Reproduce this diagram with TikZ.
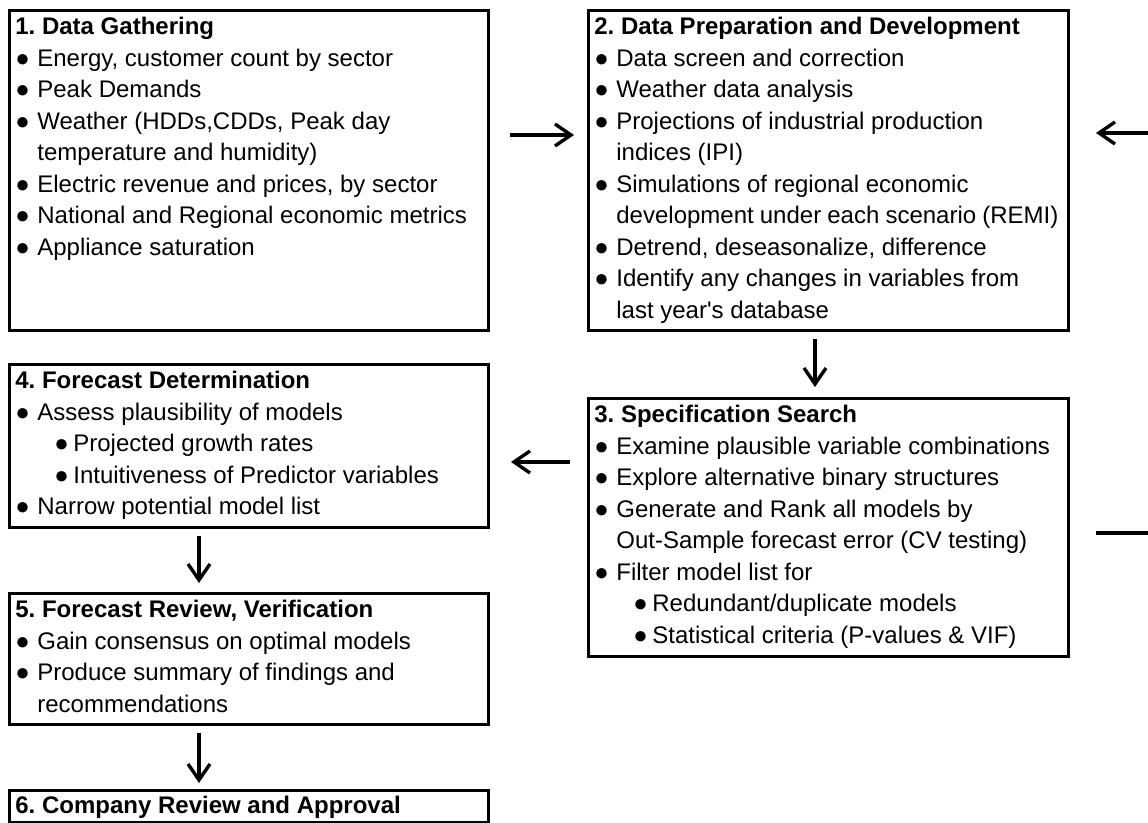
\documentclass[tikz,border=0pt]{standalone}
\usepackage{fontspec}
\setmainfont{Liberation Sans}
\usetikzlibrary{arrows.meta}
\frenchspacing
\newcommand{\mybul}{●}
\newcommand{\ttl}[1]{\textbf{#1}\par}
\newcommand{\bx}[1]{\makebox[11pt][l]{\mybul}#1\par}
\newcommand{\cx}[1]{\hspace*{11pt}#1\par}
\newcommand{\sbx}[1]{\hspace*{19.5pt}\makebox[9.5pt][l]{\mybul}#1\par}
\newcommand{\boxtext}[1]{\parbox[t]{232pt}{\setlength{\parindent}{0pt}\frenchspacing#1}}
\begin{document}
\begin{tikzpicture}[x=0.5pt,y=-0.5pt,
  box/.style={draw, line width=1.5pt, rectangle, inner sep=0pt, anchor=north west},
  txt/.style={inner sep=0pt, anchor=base west, font=\fontsize{12pt}{15.75pt}\selectfont},
  arr/.style={line width=1.7pt, -{Straight Barb[length=8pt,width=11pt]}},
  conn/.style={line width=1.7pt}]
\useasboundingbox (0,0) rectangle (1148,823);

% boxes
\node[box, minimum width=239.5pt, minimum height=160pt] (b1) at (8,9) {};
\node[box, minimum width=240pt, minimum height=160pt] (b2) at (587,9) {};
\node[box, minimum width=240pt, minimum height=129pt] (b3) at (587,397) {};
\node[box, minimum width=239.5pt, minimum height=81.5pt] (b4) at (8,363) {};
\node[box, minimum width=239.5pt, minimum height=65.5pt] (b5) at (8,592) {};
\node[box, minimum width=239.5pt, minimum height=16pt] (b6) at (8,789) {};

% texts
\node[txt] (t1) at ([shift={(7,26)}]b1.north west) {\boxtext{%
\ttl{1. Data Gathering}
\bx{Energy, customer count by sector}
\bx{Peak Demands}
\bx{Weather (HDDs,CDDs, Peak day}
\cx{temperature and humidity)}
\bx{Electric revenue and prices, by sector}
\bx{National and Regional economic metrics}
\bx{Appliance saturation}}};

\node[txt] (t2) at ([shift={(7,26)}]b2.north west) {\boxtext{%
\ttl{2. Data Preparation and Development}
\bx{Data screen and correction}
\bx{Weather data analysis}
\bx{Projections of industrial production}
\cx{indices (IPI)}
\bx{Simulations of regional economic}
\cx{development under each scenario (REMI)}
\bx{Detrend, deseasonalize, difference}
\bx{Identify any changes in variables from}
\cx{last year\textquotesingle s database}}};

\node[txt] (t3) at ([shift={(7,26)}]b3.north west) {\boxtext{%
\ttl{3. Specification Search}
\bx{Examine plausible variable combinations}
\bx{Explore alternative binary structures}
\bx{Generate and Rank all models by}
\cx{Out-Sample forecast error (CV testing)}
\bx{Filter model list for}
\sbx{Redundant/duplicate models}
\sbx{Statistical criteria (P-values \& VIF)}}};

\node[txt] (t4) at ([shift={(7,26)}]b4.north west) {\boxtext{%
\ttl{4. Forecast Determination}
\bx{Assess plausibility of models}
\sbx{Projected growth rates}
\sbx{Intuitiveness of Predictor variables}
\bx{Narrow potential model list}}};

\node[txt] (t5) at ([shift={(7,26)}]b5.north west) {\boxtext{%
\ttl{5. Forecast Review, Verification}
\bx{Gain consensus on optimal models}
\bx{Produce summary of findings and}
\cx{recommendations}}};

\node[txt] (t6) at ([shift={(7,25)}]b6.north west) {\boxtext{%
\ttl{6. Company Review and Approval}}};

% free ends at the right border
\coordinate (r1) at (1150,133);
\coordinate (r2) at (1150,533);

% connectors
\draw[arr] ([shift={(20,126)}]b1.north east) -- ([shift={(-13,126)}]b2.north west);
\draw[arr] (r1) -- ([shift={(26,124)}]b2.north east);
\draw[conn] ([shift={(26,136)}]b3.north east) -- (r2);
\draw[arr] ([shift={(228,7)}]b2.south west) -- ([shift={(228,-10)}]b3.north west);
\draw[arr] ([shift={(-17,65)}]b3.north west) -- ([shift={(21,99)}]b4.north east);
\draw[arr] ([shift={(191,7)}]b4.south west) -- ([shift={(191,-9)}]b5.north west);
\draw[arr] ([shift={(191,7)}]b5.south west) -- ([shift={(191,-6)}]b6.north west);
\end{tikzpicture}
\end{document}
